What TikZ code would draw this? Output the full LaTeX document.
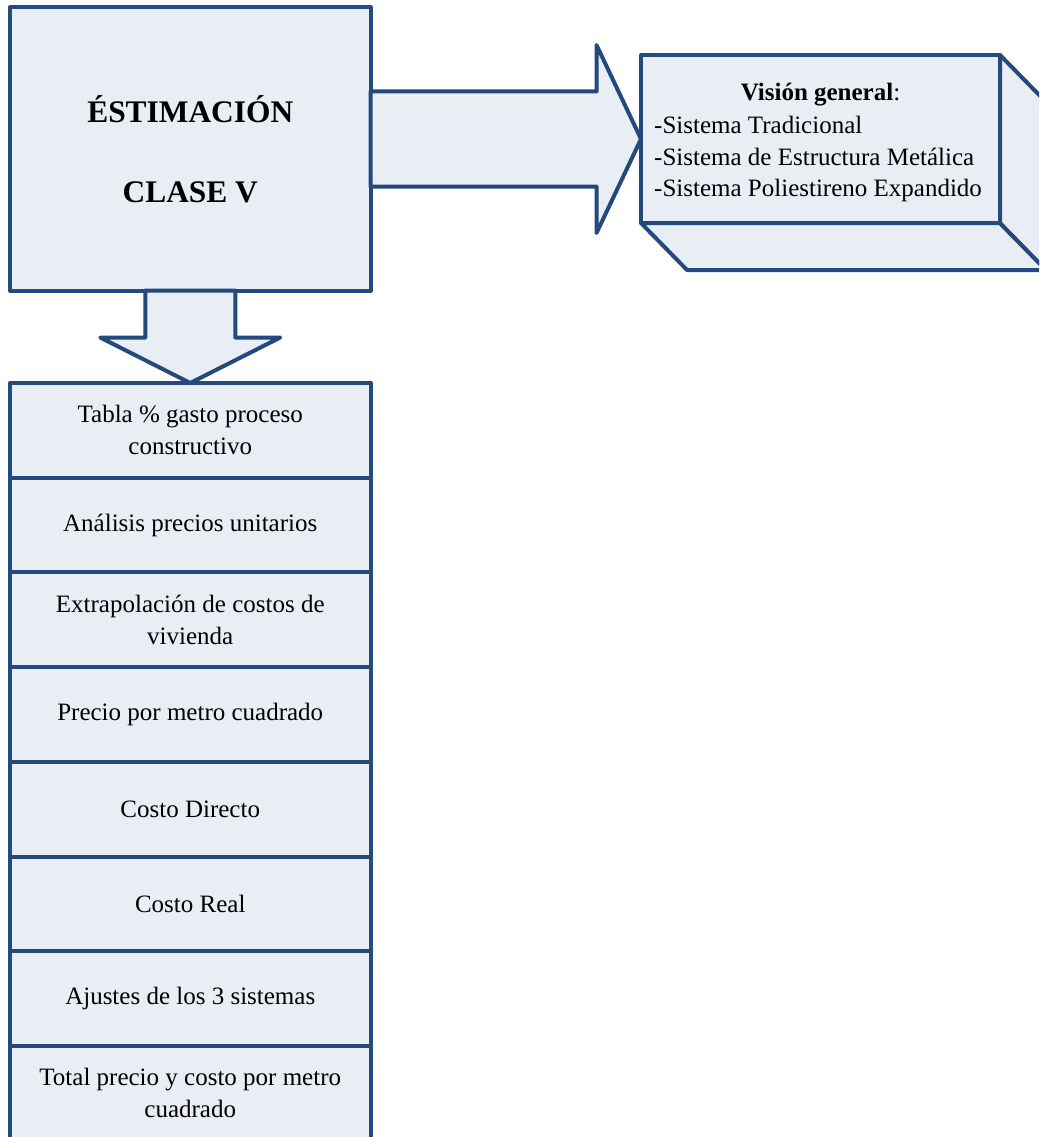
\documentclass[tikz,border=0pt]{standalone}
\usepackage{fontspec}
\setmainfont{Liberation Serif}
\usetikzlibrary{calc}
\definecolor{boxblue}{RGB}{36,73,125}
\definecolor{boxfill}{RGB}{233,237,244}
\tikzset{blk/.style={draw=boxblue, fill=boxfill, line width=4pt, line join=round, outer sep=0pt},
%one step of the list
row/.style={blk, minimum width=360.5pt, minimum height=94.7pt, inner sep=0pt, align=center, font=\fontsize{25}{32}\selectfont}}

\begin{document}
\begin{tikzpicture}[x=1pt,y=-1pt]
\useasboundingbox (0,0) rectangle (1039,1137);
\clip (0,0) rectangle (1039,1137);

% main box
\node[blk, minimum width=360.5pt, minimum height=283pt, align=center,
      font=\bfseries\fontsize{31.4}{80}\selectfont] (main) at (190.25,149) {ÉSTIMACIÓN\\CLASE V};

% list below
\foreach \t [count=\i] in {{Tabla \% gasto proceso\\constructivo},
                           {Análisis precios unitarios},
                           {Extrapolación de costos de\\vivienda},
                           {Precio por metro cuadrado},
                           {Costo Directo},
                           {Costo Real},
                           {Ajustes de los 3 sistemas},
                           {Total precio y costo por metro\\cuadrado}}
     \node[row] (r\i) at (190.25,{430.35+94.7*(\i-1)}) {\t};

% box on the right, front face then depth
\node[blk, minimum width=359pt, minimum height=168pt] (vis) at (820.5,139) {};
\draw[blk] (vis.south west) -- ++(46,47) -- ($(vis.south east)+(46,47)$) -- (vis.south east) -- cycle;
\draw[blk] (vis.north east) -- ++(46,47) -- ($(vis.south east)+(46,47)$) -- (vis.south east) -- cycle;

%labels
\node[font=\fontsize{25}{31.5}\selectfont] (vistitle) at ($(vis.north)+(0,40)$) {\textbf{Visión general}:};
\node[anchor=west, inner sep=0pt, align=left, font=\fontsize{25}{31.5}\selectfont] (vislist) at (654,159)
     {-Sistema Tradicional\\-Sistema de Estructura Metálica\\-Sistema Poliestireno Expandido};

% block arrows
\draw[blk] ($(main.south)+(-45,0)$) -- ++(0,47) -- ++(-45,0) -- (r1.north)
     -- ($(main.south)+(90,47)$) -- ++(-45,0) -- ++(0,-47) -- cycle;
\draw[blk] ($(main.east |- vis.west)+(0,-47.5)$) -- ++(226,0) -- ++(0,-46.5) -- (vis.west)
     -- ($(vis.west)+(-44.5,94)$) -- ++(0,-46.5) -- ($(main.east |- vis.west)+(0,47.5)$) -- cycle;

\end{tikzpicture}
\end{document}
